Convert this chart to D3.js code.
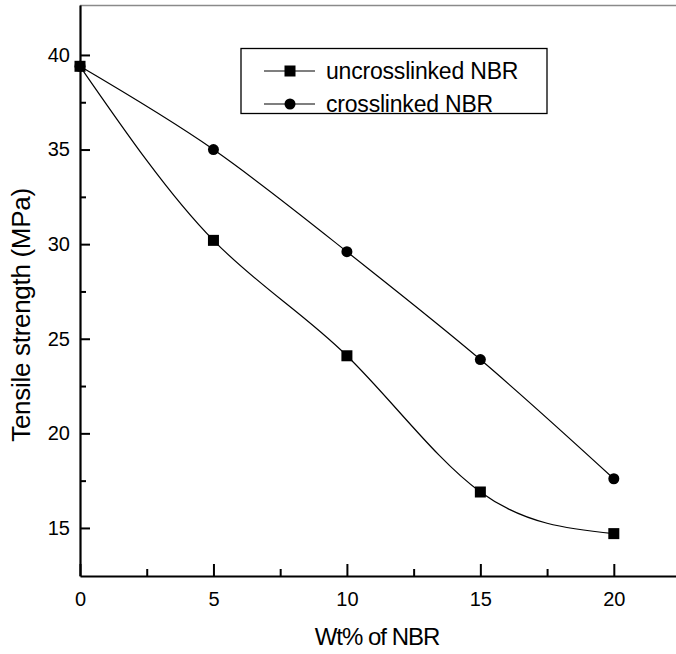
<!DOCTYPE html>
<html>
<head>
<meta charset="utf-8">
<script src="https://cdn.jsdelivr.net/npm/d3@7"></script>
<style>
  html, body { margin: 0; padding: 0; background: #fff; }
  svg { display: block; font-family: "Liberation Sans", Arial, sans-serif; }
</style>
</head>
<body>
<svg id="chart" width="676" height="654"></svg>
<script>
// NBR content (wt%)
const nbrContent = [0, 5, 10, 15, 20];
// Tensile strength (MPa) for each blend
const uncrosslinked = [39.4, 30.2, 24.1, 16.9, 14.7];
const crosslinked = [39.4, 35.0, 29.6, 23.9, 17.6];
const seriesNames = ["uncrosslinked NBR", "crosslinked NBR"];
const xTicks = [0, 5, 10, 15, 20];
const xMinorTicks = [2.5, 7.5, 12.5, 17.5];
const yTicks = [15, 20, 25, 30, 35, 40];
const yMinorTicks = [17.5, 22.5, 27.5, 32.5, 37.5];

const svg = d3.select("#chart");
const plotLeft = 80, plotRight = 676, plotTop = 5, plotBottom = 576;

const x = d3.scaleLinear().domain([0, 22.33]).range([plotLeft, plotRight]);
const y = d3.scaleLinear().domain([12.46, 42.64]).range([plotBottom, plotTop]);

// faint top frame line
svg.append("line")
  .attr("x1", plotLeft).attr("x2", plotRight)
  .attr("y1", plotTop + 0.5).attr("y2", plotTop + 0.5)
  .attr("stroke", "#8a8a8a").attr("stroke-width", 1.5);

// axes
svg.append("g").attr("transform", `translate(${plotLeft},0)`)
  .call(d3.axisLeft(y).tickValues(yTicks).tickSizeInner(-10).tickSizeOuter(0).tickPadding(10));
const yMinor = svg.append("g").attr("transform", `translate(${plotLeft},0)`)
  .call(d3.axisLeft(y).tickValues(yMinorTicks).tickSizeInner(-6).tickSizeOuter(0).tickFormat(""));
yMinor.select(".domain").remove();

svg.append("g").attr("transform", `translate(0,${plotBottom})`)
  .call(d3.axisBottom(x).tickValues(xTicks).tickSizeInner(-12).tickSizeOuter(0).tickPadding(16));
const xMinor = svg.append("g").attr("transform", `translate(0,${plotBottom})`)
  .call(d3.axisBottom(x).tickValues(xMinorTicks).tickSizeInner(-7).tickSizeOuter(0).tickFormat(""));
xMinor.select(".domain").remove();

svg.selectAll(".domain").attr("stroke", "#000").attr("stroke-width", 2.2);
svg.selectAll(".tick line").attr("stroke", "#000").attr("stroke-width", 2);
svg.selectAll(".tick text")
  .attr("font-family", "'Liberation Sans', Arial, sans-serif")
  .attr("font-size", 20).attr("fill", "#000");

// axis titles
svg.append("text")
  .attr("x", 377).attr("y", 645)
  .attr("text-anchor", "middle")
  .attr("font-size", 24).attr("letter-spacing", -1)
  .text("Wt% of NBR");

svg.append("text")
  .attr("transform", "translate(30,315) rotate(-90)")
  .attr("text-anchor", "middle")
  .attr("font-size", 26).attr("letter-spacing", -0.3)
  .text("Tensile strength (MPa)");

// curves
const lineGen = d3.line()
  .x((d, i) => x(nbrContent[i]))
  .y(d => y(d))
  .curve(d3.curveNatural);

[uncrosslinked, crosslinked].forEach(vals => {
  svg.append("path")
    .attr("d", lineGen(vals))
    .attr("fill", "none")
    .attr("stroke", "#000")
    .attr("stroke-width", 1.2);
});

// markers
const sq = 11, r = 5.5;
svg.append("g").selectAll("rect").data(uncrosslinked).join("rect")
  .attr("x", (d, i) => x(nbrContent[i]) - sq / 2)
  .attr("y", d => y(d) - sq / 2)
  .attr("width", sq).attr("height", sq)
  .attr("fill", "#000");
svg.append("g").selectAll("circle").data(crosslinked).join("circle")
  .attr("cx", (d, i) => x(nbrContent[i]))
  .attr("cy", d => y(d))
  .attr("r", r)
  .attr("fill", "#000");

// legend
const legend = svg.append("g");
legend.append("rect")
  .attr("x", 241).attr("y", 48.5).attr("width", 306).attr("height", 65)
  .attr("fill", "#fff").attr("stroke", "#000").attr("stroke-width", 1.3);
const rows = [71, 104];
seriesNames.forEach((name, i) => {
  const cy = rows[i];
  legend.append("line")
    .attr("x1", 264).attr("x2", 315).attr("y1", cy).attr("y2", cy)
    .attr("stroke", "#000").attr("stroke-width", 1.2);
  if (i === 0) {
    legend.append("rect")
      .attr("x", 290 - sq / 2).attr("y", cy - sq / 2)
      .attr("width", sq).attr("height", sq).attr("fill", "#000");
  } else {
    legend.append("circle")
      .attr("cx", 290).attr("cy", cy).attr("r", r).attr("fill", "#000");
  }
  legend.append("text")
    .attr("x", 326).attr("y", cy + 8)
    .attr("font-size", 23).attr("letter-spacing", -0.2)
    .text(name);
});
</script>
</body>
</html>
